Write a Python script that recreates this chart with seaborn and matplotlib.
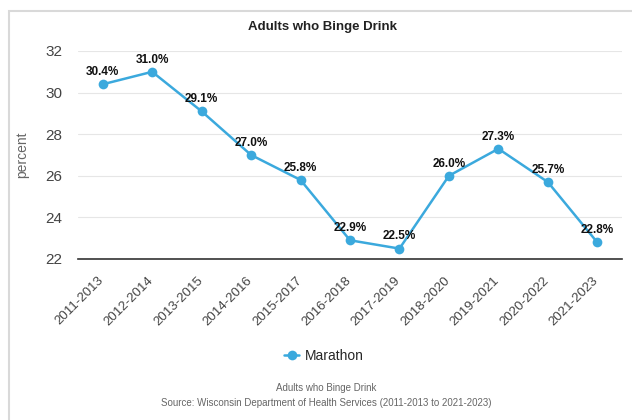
import matplotlib
matplotlib.use("Agg")
import matplotlib.pyplot as plt
import matplotlib.transforms as mtransforms
import seaborn as sns
import pandas as pd
from matplotlib.patches import Rectangle
from matplotlib.lines import Line2D

periods = ["2011-2013", "2012-2014", "2013-2015", "2014-2016", "2015-2017", "2016-2018",
           "2017-2019", "2018-2020", "2019-2021", "2020-2022", "2021-2023"]
values = [30.4, 31.0, 29.1, 27.0, 25.8, 22.9, 22.5, 26.0, 27.3, 25.7, 22.8]
series_name = "Marathon"
yticks = [22, 24, 26, 28, 30, 32]

sns.set_theme(style="white")
plt.rcParams['font.family'] = ['Liberation Sans', 'DejaVu Sans']

color = "#3ba9dd"
df = pd.DataFrame({"period": periods, "value": values})

fig = plt.figure(figsize=(6.32, 4.2), dpi=100)
fig.patch.set_facecolor("white")
fig.patches.append(Rectangle((9/632, -0.05), 1.1, 1 - 11/420 + 0.05, transform=fig.transFigure,
                             fill=False, edgecolor="#d9d9d9", linewidth=1.5))
ax = fig.add_axes([78/632, 1 - 259/420, 544/632, 208/420])

sns.lineplot(data=df, x="period", y="value", ax=ax, color=color, linewidth=1.8,
             marker="o", markersize=7, markeredgewidth=0, sort=False)

ax.set_xlim(-0.5, len(periods) - 0.5)
ax.set_ylim(22, 32)
ax.set_yticks(yticks)
ax.set_yticklabels([str(t) for t in yticks], fontsize=11, color="#444444")
ax.set_xticks(range(len(periods)))
ax.set_xticklabels(periods, rotation=45, ha="right", rotation_mode="anchor", fontsize=9.5, color="#444444")
ax.tick_params(axis="y", length=0, pad=11)
ax.tick_params(axis="x", length=0, pad=11)
shift = mtransforms.ScaledTranslation(-5/100, 0, fig.dpi_scale_trans)
for lab in ax.get_xticklabels():
    lab.set_transform(lab.get_transform() + shift)
ax.yaxis.grid(True, color="#e6e6e6", linewidth=0.8)
ax.set_axisbelow(True)
for s in ["top", "right", "left"]:
    ax.spines[s].set_visible(False)
ax.spines["bottom"].set_color("#333333")
ax.spines["bottom"].set_linewidth(1.2)
ax.set_xlabel("")
ax.set_ylabel("percent", fontsize=10, color="#666666", labelpad=12)

for i, v in enumerate(values):
    ax.annotate(f"{v:.1f}%", (i, v), xytext=(0, 4.5), textcoords="offset points",
                ha="center", va="bottom", fontsize=8.5, fontweight="bold", color="#111111")

fig.text(322/632, 1 - 27/420, "Adults who Binge Drink", ha="center", va="center",
         fontsize=9.5, fontweight="bold", color="#222222")

handle = Line2D([], [], color=color, marker="o", markersize=7, linewidth=1.8, markeredgewidth=0)
fig.legend([handle], [series_name], loc="center", bbox_to_anchor=(324/632, 1 - 356/420),
           frameon=False, fontsize=10, handlelength=1.1, handletextpad=0.4)

fig.text(326/632, 1 - 388/420, "Adults who Binge Drink", ha="center", va="center",
         fontsize=7, color="#666666")
fig.text(326/632, 1 - 403/420, "Source: Wisconsin Department of Health Services (2011-2013 to 2021-2023)",
         ha="center", va="center", fontsize=7, color="#666666")

fig.savefig("out.png", dpi=100)
